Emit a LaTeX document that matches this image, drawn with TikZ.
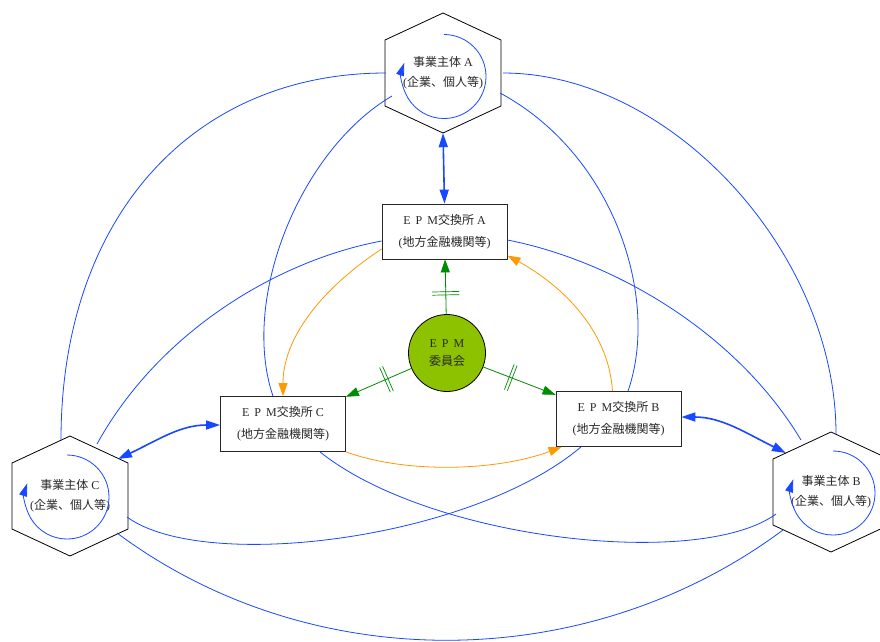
\documentclass[tikz,border=0pt]{standalone}
\usepackage{fontspec}
\setmainfont{Liberation Serif}
\newfontfamily\jp{Noto Sans CJK JP}
\usetikzlibrary{arrows.meta,calc,decorations.markings}

\definecolor{linkblue}{RGB}{24,72,255}
\definecolor{flowgreen}{RGB}{0,140,0}
\definecolor{settleorange}{RGB}{255,153,0}
\definecolor{boardgreen}{RGB}{140,194,0}
\definecolor{inkgray}{RGB}{40,40,40}

\newcommand\epm{E\hspace{5pt}P\hspace{5pt}M}
% hexagon outline around a participant node
\newcommand\hexoutline[1]{\draw[hexline] ($(#1)+(0,-60)$) -- ++(58,27) -- ++(0,66) -- ++(-58,27) -- ++(-58,-27) -- ++(0,-66) -- cycle;}
% internal transaction loop inside a participant
\newcommand\selfloop[3]{\draw[loopline] ($(#1)+(#2,#3)$) ++(0,-42) arc[start angle=-90,end angle=199,radius=42];}

\begin{document}
\begin{tikzpicture}[x=1pt,y=-1pt,
  every node/.style={text=inkgray, font=\fontsize{12}{20}\selectfont},
  hexnode/.style={minimum width=116pt, minimum height=120pt, inner sep=0pt, align=center},
  hexline/.style={draw=black, line width=0.8pt, line join=miter},
  exch/.style={draw=black!85, line width=0.8pt, fill=white, minimum width=125pt, minimum height=55pt, inner sep=0pt, align=center, font=\fontsize{12}{22}\selectfont},
  board/.style={circle, draw=black, line width=0.8pt, fill=boardgreen, minimum size=77pt, inner sep=0pt, align=center, font=\fontsize{12}{18}\selectfont},
  link/.style={draw=linkblue, line width=0.8pt},
  dlink/.style={draw=linkblue, line width=1.6pt, {Triangle[length=14pt,width=9pt]}-{Triangle[length=14pt,width=9pt]}},
  loopline/.style={draw=linkblue, line width=0.8pt, -{Triangle[length=13pt,width=8pt]}},
  govern/.style={draw=flowgreen, line width=0.8pt, -{Triangle[length=13pt,width=9pt]},
    postaction={decorate, decoration={markings, mark=at position 0.38 with {
      \draw[-, flowgreen, line width=0.7pt] (-1.6pt,-13.5pt) -- (-1.6pt,13.5pt) (1.6pt,-13.5pt) -- (1.6pt,13.5pt);}}}},
  settle/.style={draw=settleorange, line width=0.8pt, -{Triangle[length=13pt,width=9pt]}}
]
\fill[white] (0,0) rectangle (880,641);
\useasboundingbox (0,0) rectangle (880,641);

% participants
\node[hexnode] (hA) at (443,73) {{\jp 事業主体}~A\\({\jp 企業、個人等})};
\node[hexnode] (hC) at (70,496) {{\jp 事業主体}~C\\({\jp 企業、個人等})};
\node[hexnode] (hB) at (831,492) {{\jp 事業主体}~B\\({\jp 企業、個人等})};
\hexoutline{hA}
\hexoutline{hC}
\hexoutline{hB}

% exchanges and committee
\node[exch] (eA) at (444.5,231.5) {\epm{\jp 交換所}~A\\({\jp 地方金融機関等})};
\node[exch] (eC) at (283,424) {\epm{\jp 交換所}~C\\({\jp 地方金融機関等})};
\node[exch] (eB) at (618.5,419) {\epm{\jp 交換所}~B\\({\jp 地方金融機関等})};
\node[board] (cm) at (447,353) {\epm\\{\jp 委員会}};

% loops inside participants
\selfloop{hA}{1}{3.5}
\selfloop{hC}{-3}{1}
\selfloop{hB}{2}{1}

% participant-to-participant and participant-to-exchange links
\draw[link] ($(hA)+(-57,0)$) .. controls +(-195,0) and +(0,-221) .. ($(hC)+(-9,-56)$);
\draw[link] ($(hA)+(60,0)$) .. controls +(168,0) and +(0,-181) .. ($(hB)+(5,-58)$);
\draw[link] ($(hA)+(-51,23)$) .. controls +(-92,54) and +(-33,-97) .. ($(eC.north)+(-10,0)$);
\draw[link] ($(hA)+(57,20)$) .. controls +(115,62) and +(32,-92) .. ($(eB.north)+(9.5,0)$);
\draw[link] ($(eA.west)+(0,9.5)$) .. controls +(-102,19) and +(63,-114) .. ($(hC)+(27,-52)$);
\draw[link] ($(eA.east)+(0,8.5)$) .. controls +(103,20) and +(-66,-110) .. ($(hB)+(-30,-52)$);
\draw[link] ($(eC.south)+(37,0)$) .. controls +(110,88) and +(-77,56) .. ($(hB)+(-55,22)$);
\draw[link] ($(eB.south)+(-37.5,0)$) .. controls +(-110,93) and +(77,56) .. ($(hC)+(57,21)$);
\draw[link] ($(hC)+(47,37)$) .. controls +(195,145) and +(-195,145) .. ($(hB)+(-48,38)$);

% two-way links between each participant and its exchange
\draw[dlink] (hA.south) -- (eA.north);
\draw[dlink] ($(hC)+(48,-37)$) .. controls +(40,-19) and +(-40,0) .. ($(eC.west)+(0,1)$);
\draw[dlink] ($(eB.east)+(0,-2)$) .. controls +(40,0) and +(-40,-20) .. ($(hB)+(-45,-39)$);

% committee to exchanges
\draw[govern] (cm) -- (eA);
\draw[govern] (cm) -- (eC);
\draw[govern] (cm) -- (eB);

% settlement between exchanges
\draw[settle] ($(eA.west)+(0,17.5)$) .. controls +(-62,41) and +(0,-57) .. (eC.north);
\draw[settle] ($(eB.north)+(-6,0)$) .. controls +(-4,-62) and +(53,29) .. ($(eA.east)+(0,24)$);
\draw[settle] (eC.south east) .. controls +(64,23) and +(-61,23) .. ($(eB.south west)+(6,0)$);
\end{tikzpicture}
\end{document}
